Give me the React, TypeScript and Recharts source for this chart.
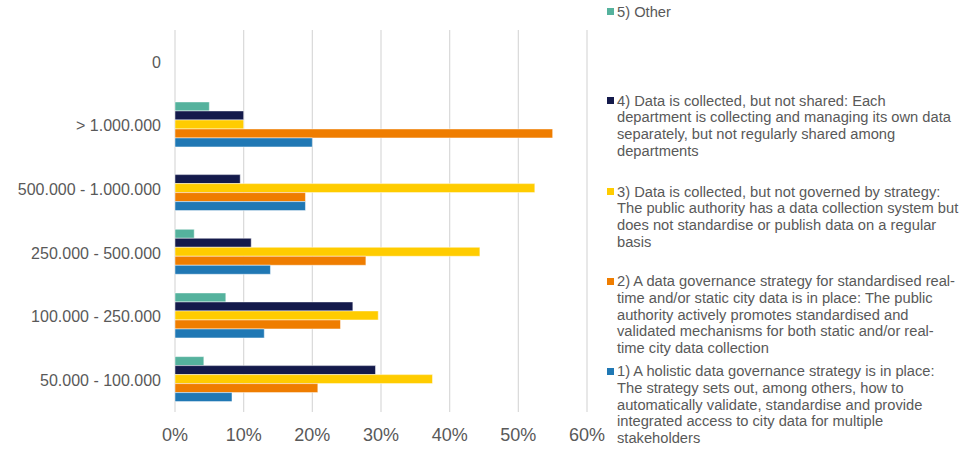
import React from "react";
import { BarChart, Bar, XAxis, YAxis, CartesianGrid } from "recharts";

// city size classes, top to bottom
const categories = [
  "0",
  "> 1.000.000",
  "500.000 - 1.000.000",
  "250.000 - 500.000",
  "100.000 - 250.000",
  "50.000 - 100.000",
];

// share of cities per answer (%)
const other = [0, 5, 0, 2.8, 7.4, 4.2];
const notShared = [0, 10, 9.5, 11.1, 25.9, 29.2];
const notGoverned = [0, 10, 52.4, 44.4, 29.6, 37.5];
const strategyInPlace = [0, 55, 19, 27.8, 24.1, 20.8];
const holistic = [0, 20, 19, 13.9, 13, 8.3];

const xTicks = [0, 10, 20, 30, 40, 50, 60];

const seriesKeys = ["other", "notShared", "notGoverned", "strategyInPlace", "holistic"];
const seriesColors = ["#55B29D", "#141A4B", "#FFCC00", "#EF7D00", "#2078B4"];
const seriesLabels: string[][] = [
  ["5) Other"],
  [
    "4) Data is collected, but not shared: Each",
    "department is collecting and managing its own data",
    "separately, but not regularly shared among",
    "departments",
  ],
  [
    "3) Data is collected, but not governed by strategy:",
    "The public authority has a data collection system but",
    "does not standardise or publish data on a regular",
    "basis",
  ],
  [
    "2) A data governance strategy for standardised real-",
    "time and/or static city data is in place: The public",
    "authority actively promotes standardised and",
    "validated mechanisms for both static and/or real-",
    "time city data collection",
  ],
  [
    "1) A holistic data governance strategy is in place:",
    "The strategy sets out, among others, how to",
    "automatically validate, standardise and provide",
    "integrated access to city data for multiple",
    "stakeholders",
  ],
];

// first-line centre of each legend entry
const legendLineCenters = [12, 101, 192, 281.7, 371.7];

const FONT = "'Liberation Sans', Arial, sans-serif";
const GREY = "#595959";
const LINE_H = 16.7;

const data = categories.map((name, i) => ({
  name,
  other: other[i],
  notShared: notShared[i],
  notGoverned: notGoverned[i],
  strategyInPlace: strategyInPlace[i],
  holistic: holistic[i],
}));

function SideLegend() {
  return (
    <div style={{ position: "absolute", left: 0, top: 0, width: 963, height: 450 }}>
      {seriesLabels.map((lines, i) => (
        <div
          key={i}
          style={{
            position: "absolute",
            left: 617,
            top: legendLineCenters[i] - LINE_H / 2,
            fontFamily: FONT,
            fontSize: 14.7,
            lineHeight: `${LINE_H}px`,
            color: GREY,
            whiteSpace: "nowrap",
          }}
        >
          <span
            style={{
              position: "absolute",
              left: -10,
              top: LINE_H / 2 - 3.5,
              width: 7,
              height: 7,
              background: seriesColors[i],
            }}
          />
          {lines.map((l, j) => (
            <div key={j}>{l}</div>
          ))}
        </div>
      ))}
    </div>
  );
}

export default function App() {
  return (
    <div
      style={{
        position: "absolute",
        left: 0,
        top: 0,
        width: 963,
        height: 450,
        background: "#ffffff",
        overflow: "hidden",
      }}
    >
      <BarChart
        width={963}
        height={450}
        layout="vertical"
        data={data}
        margin={{ top: 30, right: 376, left: 0, bottom: 0 }}
        barCategoryGap="13%"
        barGap={0}
      >
        <CartesianGrid horizontal={false} stroke="#D9D9D9" strokeWidth={1.2} />
        <XAxis
          type="number"
          domain={[0, 60]}
          ticks={xTicks}
          tickFormatter={(v) => `${v}%`}
          axisLine={false}
          tickLine={false}
          tickSize={0}
          tickMargin={16}
          height={38}
          tick={{ fill: GREY, fontSize: 18, fontFamily: FONT }}
        />
        <YAxis
          type="category"
          dataKey="name"
          width={175}
          axisLine={false}
          tickLine={false}
          tickSize={0}
          tickMargin={14}
          interval={0}
          tick={{ fill: GREY, fontSize: 16, fontFamily: FONT }}
        />
        {seriesKeys.map((k, i) => (
          <Bar
            key={k}
            dataKey={k}
            fill={seriesColors[i]}
            stroke="#ffffff"
            strokeOpacity={0.6}
            strokeWidth={0.8}
            isAnimationActive={false}
          />
        ))}
      </BarChart>
      <SideLegend />
    </div>
  );
}
